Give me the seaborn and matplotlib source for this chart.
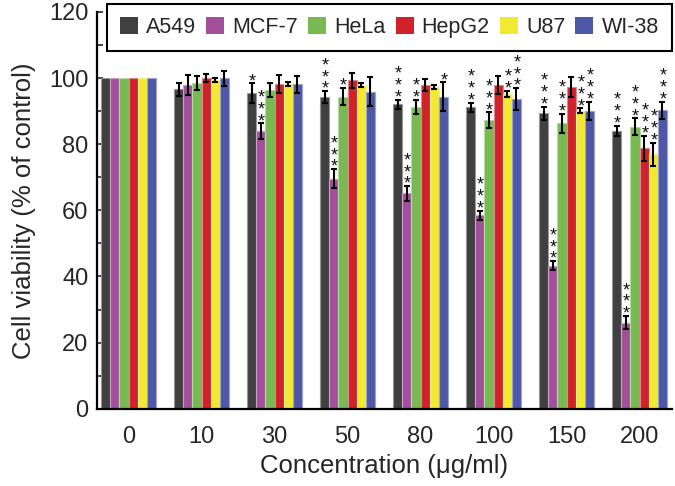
import matplotlib
matplotlib.use("Agg")
import matplotlib.pyplot as plt
import matplotlib.colors as mcolors
from matplotlib.ticker import MultipleLocator
import numpy as np
import pandas as pd
import seaborn as sns

# ---------------- data ----------------
concentrations = ['0', '10', '30', '50', '80', '100', '150', '200']
cell_lines = ['A549', 'MCF-7', 'HeLa', 'HepG2', 'U87', 'WI-38']

a549 = [100, 96.6, 95.4, 94.3, 92.0, 91.1, 89.3, 84.1]
a549_err = [0, 2.0, 3.0, 1.7, 1.4, 1.4, 2.0, 1.5]
mcf7 = [100, 97.9, 84.0, 69.5, 65.1, 58.5, 43.2, 26.0]
mcf7_err = [0, 3.0, 2.3, 2.9, 2.2, 1.4, 1.4, 2.0]
hela = [100, 98.6, 96.4, 94.4, 91.3, 87.3, 86.3, 85.3]
hela_err = [0, 2.1, 2.0, 2.7, 2.1, 2.3, 2.9, 2.5]
hepg2 = [100, 99.9, 98.2, 99.3, 97.9, 97.9, 97.2, 78.7]
hepg2_err = [0, 1.2, 2.8, 2.2, 1.9, 2.7, 3.0, 3.7]
u87 = [100, 99.4, 98.2, 97.9, 97.4, 95.2, 90.1, 77.0]
u87_err = [0, 0.7, 0.7, 0.7, 0.6, 0.9, 0.7, 3.5]
wi38 = [100, 99.9, 98.1, 95.9, 94.3, 93.6, 90.1, 90.3]
wi38_err = [0, 2.3, 2.5, 4.5, 4.4, 3.3, 2.8, 2.6]

a549_sig = ['', '', '*', '***', '***', '***', '***', '***']
mcf7_sig = ['', '', '***', '***', '***', '***', '***', '***']
hela_sig = ['', '', '', '*', '**', '***', '***', '***']
hepg2_sig = ['', '', '', '', '', '', '', '***']
u87_sig = ['', '', '', '', '', '**', '***', '***']
wi38_sig = ['', '', '', '', '*', '***', '***', '***']

values = [a549, mcf7, hela, hepg2, u87, wi38]
errors = [a549_err, mcf7_err, hela_err, hepg2_err, u87_err, wi38_err]
sigs = [a549_sig, mcf7_sig, hela_sig, hepg2_sig, u87_sig, wi38_sig]

colors = ['#404040', '#a3509c', '#78b954', '#d0222a', '#f2e933', '#4f58a6']

rows = []
for line, vals in zip(cell_lines, values):
    for c, v in zip(concentrations, vals):
        rows.append({'Concentration': c, 'Cell line': line, 'Viability': v})
df = pd.DataFrame(rows)

# ---------------- plot ----------------
sns.set_style("ticks")
plt.rcParams['font.family'] = ['Liberation Sans', 'DejaVu Sans']

fig = plt.figure(figsize=(6.75, 4.86), dpi=100)
ax = fig.add_axes([0.14326, 0.15905, 0.85185, 0.81646])

sns.barplot(data=df, x='Concentration', y='Viability', hue='Cell line',
            order=concentrations, hue_order=cell_lines, palette=colors,
            errorbar=None, width=0.753, gap=0, dodge=True, saturation=1,
            ax=ax, legend=True)

for cont, col, errs, sg in zip(ax.containers, colors, errors, sigs):
    edge = tuple(np.array(mcolors.to_rgb(col)) * 0.55 + 0.45)
    xs, ys, es = [], [], []
    for bar, e, s in zip(cont.patches, errs, sg):
        bar.set_edgecolor(edge)
        bar.set_linewidth(0.8)
        xc = bar.get_x() + bar.get_width() / 2
        h = bar.get_height()
        if e > 0:
            xs.append(xc); ys.append(h); es.append(e)
        if s:
            ax.annotate('\n'.join(s), xy=(xc, h + e), xytext=(0.5, -4.8),
                        textcoords='offset points', ha='center', va='bottom',
                        fontsize=13, linespacing=0.6, color='#111111',
                        zorder=5)
    ax.errorbar(xs, ys, yerr=es, fmt='none', ecolor='black',
                elinewidth=1.5, capsize=2.5, capthick=1.5, zorder=4)

ax.set_ylim(0, 120)
ax.set_xlim(-0.436, 7.44)
ax.yaxis.set_major_locator(MultipleLocator(20))
ax.yaxis.set_minor_locator(MultipleLocator(10))
ax.tick_params(axis='y', which='major', direction='in', length=4.5, width=1.2,
               labelsize=17, pad=6)
ax.tick_params(axis='y', which='minor', direction='in', length=4.5, width=1.2)
ax.tick_params(axis='x', length=0, labelsize=17, pad=12.5)

for side in ['top', 'right']:
    ax.spines[side].set_visible(False)
for side in ['left', 'bottom']:
    ax.spines[side].set_linewidth(1.6)
    ax.spines[side].set_color('black')

ax.set_xlabel('Concentration (μg/ml)', fontsize=18.5, labelpad=4)
ax.set_ylabel('Cell viability (% of control)', fontsize=18.5, labelpad=9.5)

handles, labels = ax.get_legend_handles_labels()
leg = ax.legend(handles, labels, ncol=6, loc='upper left',
                bbox_to_anchor=(107 / 675, 1 - 4 / 486),
                bbox_transform=fig.transFigure, borderaxespad=0,
                fontsize=15.5, handlelength=0.84, handleheight=0.84,
                handletextpad=0.37, columnspacing=0.47, borderpad=0.6,
                frameon=True, fancybox=False, framealpha=1)
leg.get_frame().set_edgecolor('black')
leg.get_frame().set_linewidth(1.5)
for h in leg.legend_handles:
    h.set_edgecolor('none')

fig.savefig('out.png', dpi=100)
